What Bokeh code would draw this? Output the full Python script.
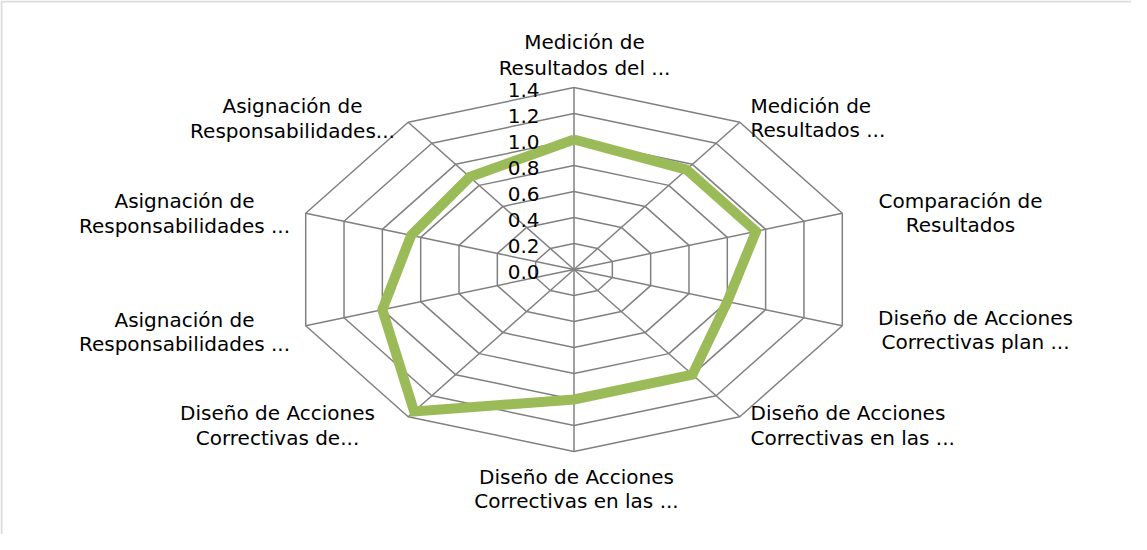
import numpy as np
from bokeh.plotting import figure
from bokeh.models import Range1d, BoxAnnotation, ColumnDataSource
from bokeh.core.properties import value
from bokeh.embed import file_html
from bokeh.resources import INLINE

# ---- data ----
categories = [
    ("Medición de", "Resultados del ..."),
    ("Medición de", "Resultados ..."),
    ("Comparación de", "Resultados"),
    ("Diseño de Acciones", "Correctivas plan ..."),
    ("Diseño de Acciones", "Correctivas en las ..."),
    ("Diseño de Acciones", "Correctivas en las ..."),
    ("Diseño de Acciones", "Correctivas de..."),
    ("Asignación de", "Responsabilidades ..."),
    ("Asignación de", "Responsabilidades ..."),
    ("Asignación de", "Responsabilidades..."),
]
values = [1.0, 0.95, 0.95, 0.8, 1.0, 1.0, 1.35, 1.0, 0.85, 0.88]
rings = [0.2, 0.4, 0.6, 0.8, 1.0, 1.2, 1.4]
tick_labels = ["0.0", "0.2", "0.4", "0.6", "0.8", "1.0", "1.2", "1.4"]
tick_values = [0.0, 0.2, 0.4, 0.6, 0.8, 1.0, 1.2, 1.4]

# ---- layout ----
W, H = 1131, 534
CX, CY = 581.5, 277.0      # page coords of the radar centre
SX, SY = 201.5, 130.0      # pixels per unit, x and y
def px(x): return (x - CX) / SX
def py(y): return (CY - y) / SY

p = figure(width=W, height=H, output_backend="svg", toolbar_location=None,
           x_range=Range1d(px(8), px(8 + W)), y_range=Range1d(py(8 + H), py(8)),
           min_border=0, outline_line_color=None)
p.axis.visible = False
p.grid.visible = False
p.background_fill_color = "white"
p.border_fill_color = "white"

n = len(values)
ang = np.arange(n) * 2 * np.pi / n
sx, cy = np.sin(ang), np.cos(ang)

GRID = "#808080"
# rings
rx = [list(np.append(r * sx, r * sx[0])) for r in rings]
ry = [list(np.append(r * cy, r * cy[0])) for r in rings]
p.multi_line(rx, ry, line_color=GRID, line_width=1.5)
# spokes
rmax = max(rings)
p.segment(x0=[0] * n, y0=[0] * n, x1=list(rmax * sx), y1=list(rmax * cy),
          line_color=GRID, line_width=1.5)

# series
v = np.array(values)
p.line(list(np.append(v * sx, v[0] * sx[0])), list(np.append(v * cy, v[0] * cy[0])),
       line_color="#9bbb59", line_width=10, line_join="miter")

FONT = value("DejaVu Sans")
FS = "20px"

# tick labels
p.text(x=[px(547)] * len(tick_values), y=tick_values, text=tick_labels,
       text_font=FONT, text_font_size=FS, text_align="right",
       text_baseline="middle", text_color="#000000", y_offset=2)

# category labels (page-position anchors for each label, two lines)
lab_x = [592, 758, 968, 983, 758, 584, 285, 192, 192, 300]
lab_y1 = [49, 113, 208, 325, 420, 484, 420, 327, 208, 113]
lab_y2 = [75, 137, 232, 349, 445, 508, 445, 351, 233, 138]
lab_al = ["center", "left", "center", "center", "left", "center", "center",
          "center", "center", "center"]
for i, (l1, l2) in enumerate(categories):
    src = ColumnDataSource(dict(x=[px(lab_x[i])] * 2,
                                y=[py(lab_y1[i]), py(lab_y2[i])],
                                t=[l1, l2]))
    p.text(x="x", y="y", text="t", source=src, text_font=FONT,
           text_font_size=FS, text_align=lab_al[i], text_baseline="middle",
           text_color="#000000")

# chart frame (top and left edges visible; the rest is off-page)
p.add_layout(BoxAnnotation(left=px(9), right=px(3000), top=py(9), bottom=py(3000),
                           fill_color=None, line_color="#8c8c8c", line_width=2))

open("out.html", "w").write(file_html(p, INLINE))
